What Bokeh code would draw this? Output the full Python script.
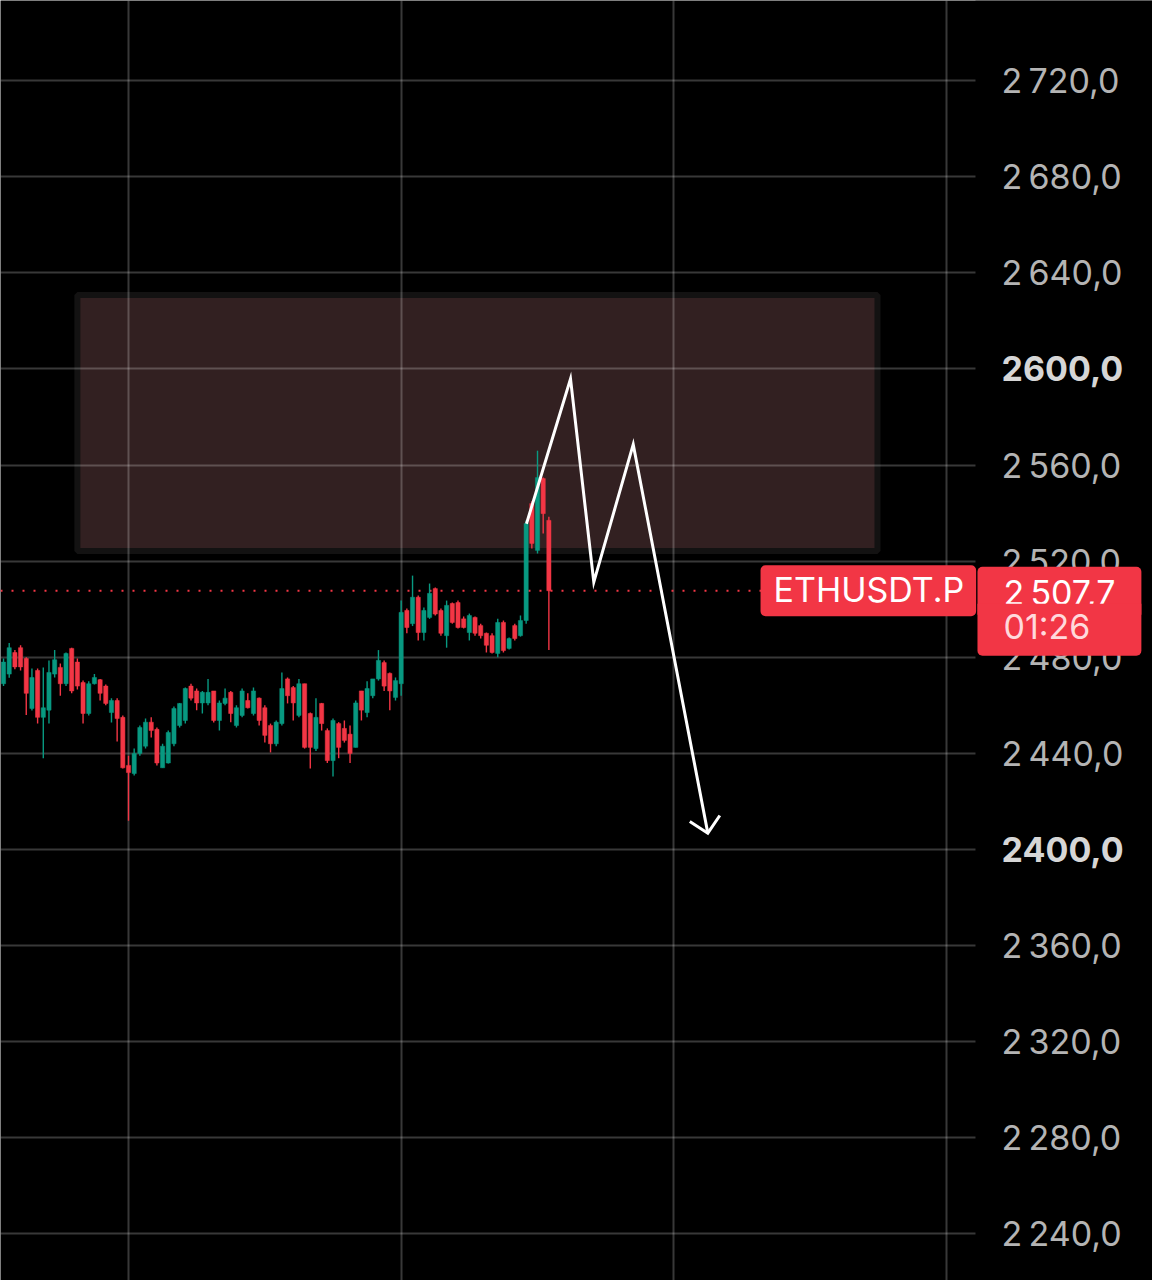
from bokeh.plotting import figure
from bokeh.models import ColumnDataSource, FixedTicker, Label, Span, Range1d, BoxAnnotation
from bokeh.core.properties import value
from bokeh.embed import file_html
from bokeh.resources import INLINE

# ---- candle data (30-min bars, ETHUSDT.P) ----
OPEN = [2469, 2473, 2482, 2484, 2479.5, 2458.7, 2474.5, 2455, 2458, 2473,
        2475.8, 2469, 2483.7, 2478, 2469.5, 2456.6, 2469, 2470.7, 2468, 2457,
        2462, 2455, 2435, 2431.6, 2440, 2443, 2453, 2450, 2434, 2436,
        2444, 2451.6, 2453.7, 2468, 2466, 2461, 2461, 2466, 2453.7, 2460.8,
        2465.4, 2451.6, 2455.8, 2462, 2456.6, 2463, 2459, 2451.6, 2444, 2452.4,
        2471, 2467.4, 2455.8, 2469, 2456.6, 2442, 2460.8, 2449.5, 2437, 2452.4,
        2450.4, 2448, 2442.5, 2466, 2457, 2464, 2471, 2477.8, 2473.3, 2463.3,
        2469, 2499.5, 2494, 2505, 2490.3, 2496.6, 2508.6, 2499.5, 2489, 2502.4,
        2502.8, 2496, 2490.3, 2496.6, 2493.2, 2490, 2489, 2481.6, 2494.5, 2483.7,
        2493.2, 2489, 2495.3, 2544, 2524.5, 2554.4, 2537]
HIGH = [2479.5, 2486, 2483, 2485, 2480, 2475.3, 2475.3, 2475.8, 2478.7, 2483,
        2477.4, 2482, 2484, 2479.5, 2470.3, 2470, 2473, 2471, 2468.7, 2463,
        2463, 2455.8, 2439, 2442, 2451.6, 2454.5, 2455, 2450.8, 2444, 2449.5,
        2459.5, 2461, 2467.4, 2469, 2467, 2466, 2471, 2466, 2462, 2467,
        2466, 2460, 2467, 2465, 2467.4, 2463.3, 2460, 2452.4, 2453.7, 2473.7,
        2471.6, 2468, 2471, 2469, 2457, 2463, 2461, 2450.4, 2454.5, 2453,
        2453.7, 2451.6, 2462, 2466, 2470, 2471, 2483, 2478.7, 2473.7, 2471.6,
        2503.6, 2500.3, 2514, 2505.7, 2500.7, 2510.7, 2509, 2500.3, 2503.6, 2502.8,
        2503.6, 2497, 2498.2, 2497, 2494, 2490.3, 2490, 2496, 2495.3, 2488.2,
        2494, 2497.4, 2537, 2545, 2566, 2554.8, 2538.5]
LOW = [2468, 2471.5, 2475, 2474.5, 2456, 2457.9, 2452.4, 2438, 2452.4, 2471.6,
       2464, 2468, 2465, 2466.6, 2452.4, 2455.8, 2468.7, 2462, 2460, 2452.9,
       2445, 2433.7, 2412, 2430.8, 2439, 2442, 2446.6, 2435, 2434, 2435.8,
       2443, 2450.8, 2452.4, 2462, 2458, 2456.6, 2460, 2452.9, 2449.5, 2460,
       2453, 2450.8, 2455, 2458.7, 2455.8, 2451.6, 2444.5, 2440.4, 2443, 2451.6,
       2460.8, 2453.7, 2455, 2442, 2433.7, 2441, 2449.5, 2436, 2430.4, 2438,
       2444.5, 2436, 2442.5, 2453.7, 2455, 2463, 2470.3, 2466, 2458, 2462,
       2464, 2490, 2493, 2487, 2487, 2496, 2497.4, 2489, 2484, 2494,
       2492, 2492, 2487, 2489, 2487.8, 2482, 2481.6, 2480, 2482, 2483.2,
       2487, 2488.6, 2494, 2525.3, 2523.2, 2531.5, 2483]
CLOSE = [2478, 2484, 2476, 2476, 2465, 2471.6, 2455, 2459, 2473.7, 2479,
         2469, 2481.6, 2466, 2468, 2456.6, 2469, 2471.6, 2465, 2460.8, 2462,
         2454.5, 2434, 2432, 2440, 2450.8, 2453, 2449.5, 2436, 2443, 2448.7,
         2458.7, 2460.8, 2467, 2463, 2461, 2465.4, 2465.4, 2453.7, 2461, 2463,
         2456.6, 2459, 2466, 2459, 2466, 2453.7, 2447.5, 2444, 2453, 2467,
         2464, 2461, 2469, 2442.5, 2442.5, 2455, 2452.4, 2437, 2453.7, 2442.5,
         2445.4, 2440, 2461, 2458, 2467, 2471, 2478.7, 2468, 2466, 2470.3,
         2498.7, 2492.4, 2505, 2490.3, 2499.5, 2506.6, 2498, 2490, 2501.6, 2494.5,
         2492.4, 2492.4, 2497.4, 2490, 2489, 2485, 2482, 2494.5, 2482.8, 2487.8,
         2487.8, 2495.3, 2535.7, 2527.4, 2554.8, 2539.8, 2507.7]
BAR = list(range(len(OPEN)))

PRICE_TICKS = [2240, 2280, 2320, 2360, 2400, 2440, 2480, 2520, 2560, 2600, 2640, 2680, 2720]
BOLD_TICKS = [2400, 2600]
DAY_TICKS = [22, 70, 118, 166]

LAST_PRICE = 2507.7
SYMBOL = "ETHUSDT.P"
COUNTDOWN = "01:26"

# supply zone (bar index / price)
ZONE_LEFT, ZONE_RIGHT = 13.0, 153.85
ZONE_TOP, ZONE_BOTTOM = 2630.8, 2524.2

# hand-drawn projection path (bar index / price)
PATH_X = [92.06, 99.81, 103.91, 110.85, 123.98]
PATH_Y = [2535.6, 2595.9, 2511.3, 2568.6, 2406.8]
HEAD_X = [120.81, 123.98, 126.09]
HEAD_Y = [2411.65, 2406.8, 2414.15]

# visible window (bar index / price); chart pane ends at CHART_END, price scale beyond
X_START, X_END = -0.533, 202.26
CHART_END = 171.1
Y_START, Y_END = 2220.6, 2753.38
LABEL_X = 175.7
SYMBOL_X = 133.26

GREEN = "#089981"
RED = "#f23645"
FONT = "Inter"


def fmt_price(v, sep="\u2009"):
    whole = int(v)
    frac = round((v - whole) * 10)
    return f"{whole // 1000}{sep}{whole % 1000:03d},{frac}"


colors = [GREEN if c >= o else RED for o, c in zip(OPEN, CLOSE)]
src = ColumnDataSource(dict(
    x=BAR, open=OPEN, high=HIGH, low=LOW, close=CLOSE,
    top=[max(o, c) for o, c in zip(OPEN, CLOSE)],
    bottom=[min(o, c) for o, c in zip(OPEN, CLOSE)],
    color=colors,
))

p = figure(width=1152, height=1280,
           x_range=Range1d(X_START, X_END), y_range=Range1d(Y_START, Y_END),
           x_axis_location=None, y_axis_location=None,
           toolbar_location=None, output_backend="svg",
           background_fill_color="black", border_fill_color="black",
           min_border_left=0, min_border_top=0, min_border_bottom=0, min_border_right=0)
p.outline_line_color = None

# grids
p.xgrid.ticker = FixedTicker(ticks=DAY_TICKS)
p.ygrid.ticker = FixedTicker(ticks=PRICE_TICKS)
p.grid.grid_line_color = "white"
p.grid.grid_line_alpha = 0.22
p.grid.grid_line_width = 2

# zone
p.quad(left=[ZONE_LEFT], right=[ZONE_RIGHT], top=[ZONE_TOP], bottom=[ZONE_BOTTOM],
       fill_color="#322021", line_color="#131212", line_width=6, level="image")

# last price line (under the price-scale mask)
p.add_layout(Span(location=LAST_PRICE, dimension="width", line_color=RED,
                  line_dash="2 9", line_width=2, level="underlay"))

# price-scale pane background
p.add_layout(BoxAnnotation(left=CHART_END, fill_color="black", fill_alpha=1.0,
                           line_alpha=0, level="underlay"))

# candles
p.segment(x0="x", y0="low", x1="x", y1="high", source=src, line_color="color", line_width=1.4)
p.vbar(x="x", width=0.74, top="top", bottom="bottom", source=src,
       fill_color="color", line_color="color", line_width=0.5)

# projection path
p.line(PATH_X, PATH_Y, line_color="white", line_width=3, line_join="miter")
p.line(HEAD_X, HEAD_Y, line_color="white", line_width=3, line_join="miter")

# price scale labels
reg_ticks = [t for t in PRICE_TICKS if t not in BOLD_TICKS]
p.text(x=[LABEL_X] * len(reg_ticks), y=reg_ticks, text=[fmt_price(t) for t in reg_ticks],
       text_font=value(FONT), text_font_size=value("34px"), text_color="#b4b4b4",
       text_align="left", text_baseline="middle")
p.text(x=[LABEL_X] * len(BOLD_TICKS), y=BOLD_TICKS, text=[fmt_price(t, sep="") for t in BOLD_TICKS],
       text_font=value(FONT), text_font_size=value("34px"), text_font_style="bold",
       text_color="#d6d6d6", text_align="left", text_baseline="middle")

# symbol label
p.add_layout(Label(x=SYMBOL_X, y=LAST_PRICE, text=SYMBOL, text_font=FONT, text_font_size="34px",
                   text_color="white", text_align="left", text_baseline="middle",
                   background_fill_color=RED,
                   padding=dict(left=13, right=12, top=4, bottom=6),
                   border_radius=5))

# last price box
p.add_layout(Label(x=CHART_END + 0.35, y=LAST_PRICE, text=fmt_price(LAST_PRICE), text_font=FONT,
                   text_font_size="34px", text_color="white", text_align="left",
                   text_baseline="middle", background_fill_color=RED,
                   padding=dict(left=26, right=26, top=5, bottom=2),
                   border_radius=dict(top_left=5, top_right=5, bottom_right=0, bottom_left=0)))
p.add_layout(Label(x=CHART_END + 0.35, y=LAST_PRICE, y_offset=-39, text=COUNTDOWN, text_font=FONT,
                   text_font_size="34px", text_color="#ffd9dc", text_align="left",
                   text_baseline="middle", background_fill_color=RED,
                   padding=dict(left=26, right=51, top=2, bottom=9),
                   border_radius=dict(top_left=0, top_right=0, bottom_right=5, bottom_left=5)))

open("out.html", "w").write(file_html(p, INLINE))
